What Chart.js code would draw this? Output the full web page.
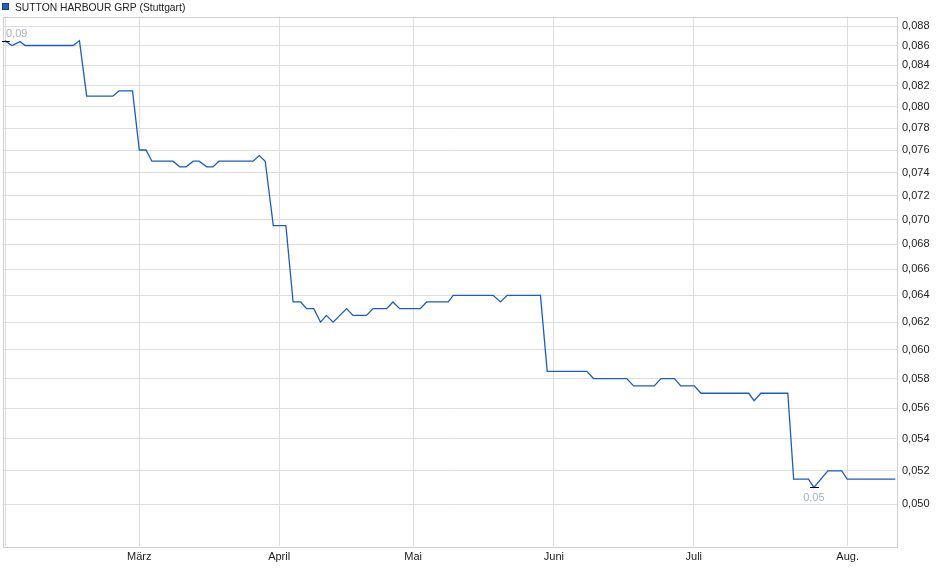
<!DOCTYPE html>
<html>
<head>
<meta charset="utf-8">
<script src="https://cdn.jsdelivr.net/npm/chart.js@4.4.1/dist/chart.umd.min.js"></script>
<style>
  html, body { margin: 0; padding: 0; background: #fff; }
  canvas { display: block; }
</style>
</head>
<body>
<canvas id="c" width="940" height="579" style="width:940px;height:579px"></canvas>
<script>
const seriesName = 'SUTTON HARBOUR GRP (Stuttgart)';

// x positions in (approx.) calendar days from the chart start
const days = [0.4, 2.0, 3.8, 4.9, 15.6, 17.0, 18.6, 24.4, 25.8, 28.8,
  30.3, 31.8, 33.1, 37.8, 39.3, 40.7, 42.3, 43.6, 45.3, 46.7,
  48.0, 55.6, 57.0, 58.3, 60.1, 62.9, 64.5, 66.2, 67.5, 69.1,
  70.6, 71.9, 73.4, 76.4, 77.8, 80.8, 82.3, 85.3, 86.7, 88.2,
  92.8, 94.2, 99.0, 100.1, 109.0, 110.6, 112.1, 119.5, 121.0, 129.8,
  131.3, 138.7, 140.2, 144.8, 146.3, 149.3, 150.7, 153.7, 155.2, 165.8,
  167.0, 168.5, 174.5, 175.8, 179.1, 180.3, 183.4, 186.5, 187.7, 198.4];

const prices = [0.0865, 0.0860, 0.0864, 0.0860, 0.0860, 0.0865, 0.0810, 0.0810, 0.0815, 0.0815,
  0.0760, 0.0760, 0.0750, 0.0750, 0.0745, 0.0745, 0.0750, 0.0750, 0.0745, 0.0745,
  0.0750, 0.0750, 0.0755, 0.0750, 0.0695, 0.0695, 0.0635, 0.0635, 0.0630, 0.0630,
  0.0620, 0.0625, 0.0620, 0.0630, 0.0625, 0.0625, 0.0630, 0.0630, 0.0635, 0.0630,
  0.0630, 0.0635, 0.0635, 0.0640, 0.0640, 0.0635, 0.0640, 0.0640, 0.0585, 0.0585,
  0.0580, 0.0580, 0.0575, 0.0575, 0.0580, 0.0580, 0.0575, 0.0575, 0.0570, 0.0570,
  0.0565, 0.0570, 0.0570, 0.0515, 0.0515, 0.0510, 0.0520, 0.0520, 0.0515, 0.0515];

const monthLabels = ['', 'März', 'April', 'Mai', 'Juni', 'Juli', 'Aug.'];
const monthDays = [0.6, 30.3, 61.4, 91.2, 122.5, 153.6, 187.8];

const yTickValues = [0.050, 0.052, 0.054, 0.056, 0.058, 0.060, 0.062, 0.064, 0.066, 0.068,
  0.070, 0.072, 0.074, 0.076, 0.078, 0.080, 0.082, 0.084, 0.086, 0.088];

const FONT = '"Liberation Sans", Arial, sans-serif';

const points = days.map((d, i) => ({ x: d, y: prices[i] }));

const decorPlugin = {
  id: 'decor',
  beforeDraw(chart) {
    const ctx = chart.ctx;
    ctx.save();
    ctx.fillStyle = '#ffffff';
    ctx.fillRect(0, 0, chart.width, chart.height);
    ctx.restore();
  },
  beforeDatasetsDraw(chart) {
    const ctx = chart.ctx, a = chart.chartArea;
    ctx.save();
    ctx.strokeStyle = '#cfcfcf';
    ctx.lineWidth = 1;
    ctx.strokeRect(Math.round(a.left) + 0.5, Math.round(a.top) + 0.5,
      Math.round(a.right - a.left) - 1, Math.round(a.bottom - a.top));
    ctx.restore();
  },
  afterDraw(chart) {
    const ctx = chart.ctx, a = chart.chartArea;
    const xs = chart.scales.x, ys = chart.scales.y;
    ctx.save();
    // legend
    ctx.fillStyle = '#1f5fc0';
    ctx.fillRect(2, 3, 7, 7);
    ctx.strokeStyle = '#17407f';
    ctx.lineWidth = 1;
    ctx.strokeRect(2.5, 3.5, 6, 6);
    ctx.fillStyle = '#222';
    ctx.font = '10.3px ' + FONT;
    ctx.textBaseline = 'alphabetic';
    ctx.textAlign = 'left';
    ctx.fillText(seriesName, 15, 10.5);

    // max / min markers
    let iMax = 0, iMin = 0;
    prices.forEach((p, i) => {
      if (p > prices[iMax]) iMax = i;
      if (p < prices[iMin]) iMin = i;
    });
    const mark = (i, above) => {
      const px = xs.getPixelForValue(days[i]);
      const py = Math.round(ys.getPixelForValue(prices[i])) + 0.5;
      ctx.strokeStyle = '#000';
      ctx.lineWidth = 1;
      ctx.beginPath();
      ctx.moveTo(Math.max(px - 4, a.left - 1), py);
      ctx.lineTo(px + 5, py);
      ctx.stroke();
      const txt = prices[i].toFixed(2).replace('.', ',');
      ctx.font = '11px ' + FONT;
      const w = ctx.measureText(txt).width;
      let cx = Math.max(px, a.left + w / 2 + 3);
      cx = Math.min(cx, a.right - w / 2 - 3);
      ctx.fillStyle = '#a9b2bb';
      ctx.textAlign = 'center';
      ctx.textBaseline = 'alphabetic';
      ctx.fillText(txt, cx, above ? py - 5 : py + 13);
    };
    mark(iMax, true);
    mark(iMin, false);
    ctx.restore();
  }
};

new Chart(document.getElementById('c'), {
  type: 'line',
  data: {
    datasets: [{
      label: seriesName,
      data: points,
      borderColor: '#1b5cc4',
      borderWidth: 1.3,
      pointRadius: 0,
      tension: 0,
      fill: false
    }]
  },
  options: {
    responsive: false,
    animation: false,
    layout: { padding: { left: 3, top: 16.5, right: 0, bottom: 0 } },
    plugins: { legend: { display: false }, tooltip: { enabled: false } },
    scales: {
      x: {
        type: 'linear',
        bounds: 'data',
        min: 0,
        max: 199,
        afterBuildTicks(scale) { scale.ticks = monthDays.map(v => ({ value: v })); },
        afterFit(scale) { scale.height = 33; },
        grid: { color: '#dedede', lineWidth: 1, drawTicks: false },
        border: { display: false },
        ticks: {
          autoSkip: false,
          maxRotation: 0,
          padding: 4,
          color: '#222',
          font: { family: FONT, size: 11 },
          callback: (v, i) => monthLabels[i]
        }
      },
      y: {
        type: 'logarithmic',
        position: 'right',
        bounds: 'data',
        min: 0.04758,
        max: 0.0890,
        afterBuildTicks(scale) { scale.ticks = yTickValues.map(v => ({ value: v })); },
        afterFit(scale) { scale.width = 42; },
        grid: { color: '#dedede', lineWidth: 1, drawTicks: false },
        border: { display: false },
        ticks: {
          autoSkip: false,
          padding: 4,
          color: '#222',
          font: { family: FONT, size: 11 },
          callback: v => Number(v).toFixed(3).replace('.', ',')
        }
      }
    }
  },
  plugins: [decorPlugin]
});
</script>
</body>
</html>
